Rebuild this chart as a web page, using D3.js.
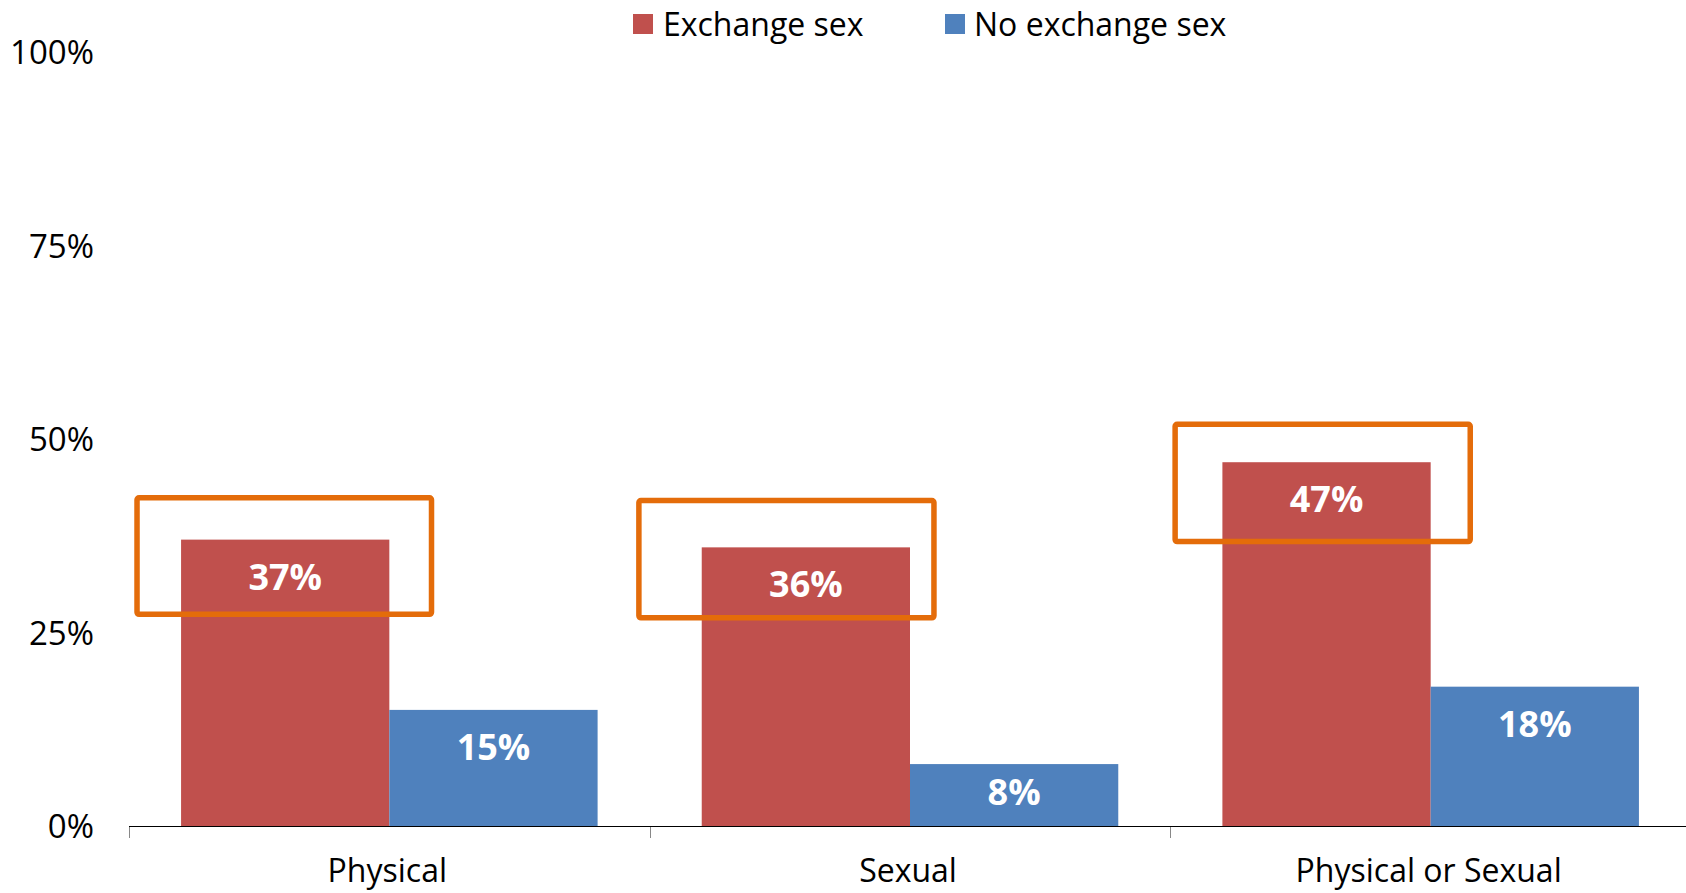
<!DOCTYPE html>
<html>
<head>
<meta charset="utf-8">
<script src="https://cdn.jsdelivr.net/npm/d3@7"></script>
<style>
  html, body { margin: 0; padding: 0; background: #fff; }
  #chart { width: 1686px; height: 893px; }
  text { font-family: "Open Sans", "Noto Sans", sans-serif; }
</style>
</head>
<body>
<div id="chart"></div>
<script>
//Datos
const categories = ['Physical', 'Sexual', 'Physical or Sexual'];
const seriesNames = ['Exchange sex', 'No exchange sex'];
const exchangeValues = [37, 36, 47];
const noExchangeValues = [15, 8, 18];
const yTicks = [0, 25, 50, 75, 100];

//Recuadros naranjas (en % del eje y en fracción de la categoría)
const boxTop = [42.4, 42.05, 51.9];
const boxBottom = [27.35, 26.9, 36.75];
const boxLeft = [0.0154, -0.0207, 0.0092];
const boxRight = [0.581, 0.546, 0.576];

//Colores
const COLOR_RED = '#C0504D',
COLOR_BLUE = '#4F81BD',
COLOR_ORANGE = '#E46C0A';

let data = categories.map(function(c, i) {
    return { cat: c, values: [exchangeValues[i], noExchangeValues[i]] };
});

let width = 1686, height = 893;

let svg = d3.select('#chart')
    .append('svg')
        .attr('width', width)
        .attr('height', height);

let x0 = d3.scaleBand()
    .domain(categories)
    .range([129, 1691]);

let x1 = d3.scaleBand()
    .domain(seriesNames)
    .range([x0.step() * 0.1, x0.step() * 0.9]);

let y = d3.scaleLinear()
    .domain([0, 100])
    .range([826, 52]);

let z = d3.scaleOrdinal()
    .domain(seriesNames)
    .range([COLOR_RED, COLOR_BLUE]);

//Eje Y
let yAxis = svg.append('g')
    .attr('transform', 'translate(129,0)')
    .call(d3.axisLeft(y).tickValues(yTicks).tickFormat(function(d) { return d + '%'; }).tickSize(0));
yAxis.select('.domain').remove();
yAxis.selectAll('text')
    .attr('x', -35)
    .attr('dy', '0.36em')
    .style('font-size', '33px')
    .style('font-family', '"Open Sans", sans-serif')
    .attr('fill', '#000');

//Barras
let groups = svg.selectAll('.group')
    .data(data)
    .enter()
    .append('g')
        .attr('class', 'group')
        .attr('transform', function(d) { return 'translate(' + x0(d.cat) + ',0)'; });

groups.selectAll('rect')
    .data(function(d) { return d.values.map(function(v, i) { return { key: seriesNames[i], value: v }; }); })
    .enter()
    .append('rect')
        .attr('x', function(d) { return x1(d.key); })
        .attr('width', x1.bandwidth())
        .attr('y', function(d) { return y(d.value); })
        .attr('height', function(d) { return y(0) - y(d.value); })
        .attr('fill', function(d) { return z(d.key); });

groups.selectAll('.label')
    .data(function(d) { return d.values.map(function(v, i) { return { key: seriesNames[i], value: v }; }); })
    .enter()
    .append('text')
        .attr('class', 'label')
        .attr('x', function(d) { return x1(d.key) + x1.bandwidth() / 2; })
        .attr('y', function(d) { return Math.min(y(d.value) + 37, (y(d.value) + y(0)) / 2 - 3); })
        .attr('dy', '0.36em')
        .attr('text-anchor', 'middle')
        .attr('fill', '#fff')
        .style('font-size', '36px')
        .style('font-weight', 'bold')
        .text(function(d) { return d.value + '%'; });

//Eje X
svg.append('line')
    .attr('x1', 129)
    .attr('x2', width)
    .attr('y1', y(0) + 0.5)
    .attr('y2', y(0) + 0.5)
    .attr('stroke', '#000')
    .attr('stroke-width', 1.2);

svg.selectAll('.xtick')
    .data(categories)
    .enter()
    .append('line')
        .attr('class', 'xtick')
        .attr('x1', function(d) { return Math.round(x0(d)) + 0.5; })
        .attr('x2', function(d) { return Math.round(x0(d)) + 0.5; })
        .attr('y1', y(0) + 1)
        .attr('y2', y(0) + 12)
        .attr('stroke', '#888')
        .attr('stroke-width', 1);

svg.selectAll('.xlabel')
    .data(categories)
    .enter()
    .append('text')
        .attr('class', 'xlabel')
        .attr('x', function(d) { return x0(d) + x0.bandwidth() / 2 - 2; })
        .attr('y', y(0) + 56)
        .attr('text-anchor', 'middle')
        .attr('fill', '#000')
        .style('font-size', '32px')
        .text(function(d) { return d; });

//Recuadros
svg.selectAll('.box')
    .data(categories)
    .enter()
    .append('rect')
        .attr('class', 'box')
        .attr('x', function(d, i) { return x0(d) + boxLeft[i] * x0.step(); })
        .attr('width', function(d, i) { return (boxRight[i] - boxLeft[i]) * x0.step(); })
        .attr('y', function(d, i) { return y(boxTop[i]); })
        .attr('height', function(d, i) { return y(boxBottom[i]) - y(boxTop[i]); })
        .attr('rx', 2)
        .attr('fill', 'none')
        .attr('stroke', COLOR_ORANGE)
        .attr('stroke-width', 5.5);

//Leyenda
let legendX = [633, 945];
let legend = svg.selectAll('.legend')
    .data(seriesNames)
    .enter()
    .append('g')
        .attr('class', 'legend')
        .attr('transform', function(d, i) { return 'translate(' + legendX[i] + ',14)'; });

legend.append('rect')
    .attr('width', 20)
    .attr('height', 20)
    .attr('fill', function(d) { return z(d); });

legend.append('text')
    .attr('x', function(d, i) { return i == 0 ? 30 : 29; })
    .attr('y', 10)
    .attr('dy', '0.36em')
    .attr('fill', '#000')
    .style('font-size', '32px')
    .text(function(d) { return d; });
</script>
</body>
</html>
